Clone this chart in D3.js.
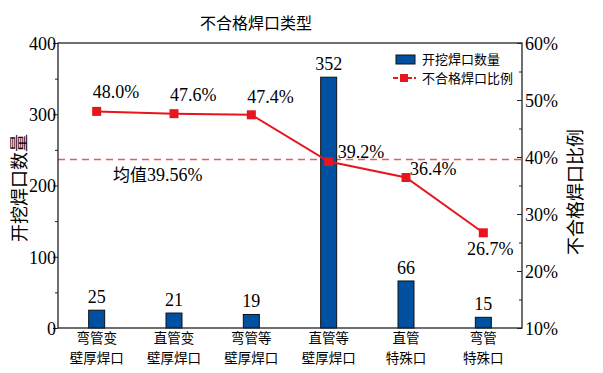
<!DOCTYPE html>
<html>
<head>
<meta charset="utf-8">
<script src="https://cdn.jsdelivr.net/npm/d3@7"></script>
<style>
body{margin:0;background:#fff;}
text{font-family:"Liberation Serif","Noto Sans CJK SC",serif;fill:#000;}
</style>
</head>
<body>
<svg id="_svg" width="603" height="373"></svg>
<script>
// 数据
var categories = [["弯管变","壁厚焊口"],["直管变","壁厚焊口"],["弯管等","壁厚焊口"],["直管等","壁厚焊口"],["直管","特殊口"],["弯管","特殊口"]];
var counts = [25, 21, 19, 352, 66, 15];
var ratios = [48.0, 47.6, 47.4, 39.2, 36.4, 26.7];
var meanRatio = 39.56;
var leftTicks = [0, 100, 200, 300, 400];
var rightTicks = [10, 20, 30, 40, 50, 60];

// 百分比标签的位置（相对点）
var labelPos = [[-4,-13,"start"],[-4,-13,"start"],[-4,-12,"start"],[9,-4,"start"],[4,-3,"start"],[7,22,"middle"]];

var m = {left:58, right:522, top:43, bottom:328};
var svg = d3.select("svg");

var x = d3.scaleBand().domain(d3.range(categories.length)).range([m.left, m.right]);
var yL = d3.scaleLinear().domain([0,400]).range([m.bottom, m.top]);
var yR = d3.scaleLinear().domain([10,60]).range([m.bottom, m.top]);
var cx = function(i){ return x(i) + x.bandwidth()/2; };

// 标题
svg.append("text").attr("x",256).attr("y",29).attr("text-anchor","middle")
    .style("font-size","16px").style("font-family","Noto Sans CJK SC").text("不合格焊口类型");

// 均值线
svg.append("line").attr("x1",m.left).attr("x2",m.right)
    .attr("y1",yR(meanRatio)).attr("y2",yR(meanRatio))
    .style("stroke","#ec5a5e").style("stroke-width",1.3).style("stroke-dasharray","7,5");
svg.append("text").attr("x",113).attr("y",yR(meanRatio)+21).style("font-size","18px")
    .html('<tspan style="font-family:Noto Sans CJK SC;font-size:17px">均值</tspan>39.56%');

// 柱子
svg.selectAll(".bar").data(counts).enter().append("rect")
    .attr("x",function(d,i){return cx(i)-8;})
    .attr("y",function(d){return yL(d);})
    .attr("width",16)
    .attr("height",function(d){return m.bottom-yL(d);})
    .style("fill","#0050a2").style("stroke","#111").style("stroke-width",1);
svg.selectAll(".blab").data(counts).enter().append("text")
    .attr("x",function(d,i){return cx(i);})
    .attr("y",function(d){return yL(d)-7;})
    .attr("text-anchor","middle").style("font-size","18px")
    .text(function(d){return d;});

// 折线
var line = d3.line().x(function(d,i){return cx(i);}).y(function(d){return yR(d);});
svg.append("path").datum(ratios).attr("d",line)
    .style("fill","none").style("stroke","#e8141e").style("stroke-width",2);
svg.selectAll(".pt").data(ratios).enter().append("rect")
    .attr("x",function(d,i){return cx(i)-4.5;})
    .attr("y",function(d){return yR(d)-4.5;})
    .attr("width",9).attr("height",9).style("fill","#e8141e");
svg.selectAll(".plab").data(ratios).enter().append("text")
    .attr("x",function(d,i){return cx(i)+labelPos[i][0];})
    .attr("y",function(d,i){return yR(d)+labelPos[i][1];})
    .attr("text-anchor",function(d,i){return labelPos[i][2];})
    .style("font-size","18px")
    .text(function(d){return d.toFixed(1)+"%";});

// 外框
svg.append("rect").attr("x",m.left).attr("y",m.top)
    .attr("width",m.right-m.left).attr("height",m.bottom-m.top)
    .style("fill","none").style("stroke","#222").style("stroke-width",1.3);

// 左轴
var gl = svg.append("g").attr("transform","translate("+m.left+",0)");
gl.call(d3.axisLeft(yL).tickValues(d3.range(0,401,50)).tickSize(5).tickFormat(function(d){return d%100===0?d:"";}));
gl.selectAll(".tick line").attr("x2",function(d){return d%100===0?-5:-3;}).style("stroke","#222");
gl.select(".domain").remove();
gl.selectAll("text").style("font-size","18px").style("font-family","Liberation Serif").attr("x",-2).attr("dy","0.35em");

// 右轴（刻度朝内）
var gr = svg.append("g").attr("transform","translate("+m.right+",0)");
gr.call(d3.axisRight(yR).tickValues(d3.range(10,61,5)).tickSize(5).tickFormat(function(d){return d%10===0?d+"%":"";}));
gr.selectAll(".tick line").attr("x2",function(d){return d%10===0?-5:-3;}).style("stroke","#222");
gr.select(".domain").remove();
gr.selectAll("text").style("font-size","18px").style("font-family","Liberation Serif").attr("x",3).attr("dy","0.35em");

// 分类标签（两行）
svg.selectAll(".xl1").data(categories).enter().append("text")
    .attr("x",function(d,i){return cx(i);}).attr("y",343)
    .attr("text-anchor","middle").style("font-size","13.5px").style("font-family","Noto Sans CJK SC")
    .text(function(d){return d[0];});
svg.selectAll(".xl2").data(categories).enter().append("text")
    .attr("x",function(d,i){return cx(i);}).attr("y",362.5)
    .attr("text-anchor","middle").style("font-size","13.5px").style("font-family","Noto Sans CJK SC")
    .text(function(d){return d[1];});

// 轴标题
svg.append("text").attr("transform","translate(26,188) rotate(-90)").attr("text-anchor","middle")
    .style("font-size","18px").style("font-family","Noto Sans CJK SC").text("开挖焊口数量");
svg.append("text").attr("transform","translate(582,192) rotate(-90)").attr("text-anchor","middle")
    .style("font-size","18px").style("font-family","Noto Sans CJK SC").text("不合格焊口比例");

// 图例
var lg = svg.append("g");
lg.append("rect").attr("x",396).attr("y",55).attr("width",19).attr("height",9)
    .style("fill","#0050a2").style("stroke","#111");
lg.append("text").attr("x",422).attr("y",64).style("font-size","13px").style("font-family","Noto Sans CJK SC").text("开挖焊口数量");
lg.append("line").attr("x1",393).attr("x2",416).attr("y1",78).attr("y2",78)
    .style("stroke","#e8141e").style("stroke-width",2).style("stroke-dasharray","5,2");
lg.append("rect").attr("x",400).attr("y",74).attr("width",8).attr("height",8).style("fill","#e8141e");
lg.append("text").attr("x",422).attr("y",83).style("font-size","13px").style("font-family","Noto Sans CJK SC").text("不合格焊口比例");
</script>
</body>
</html>
